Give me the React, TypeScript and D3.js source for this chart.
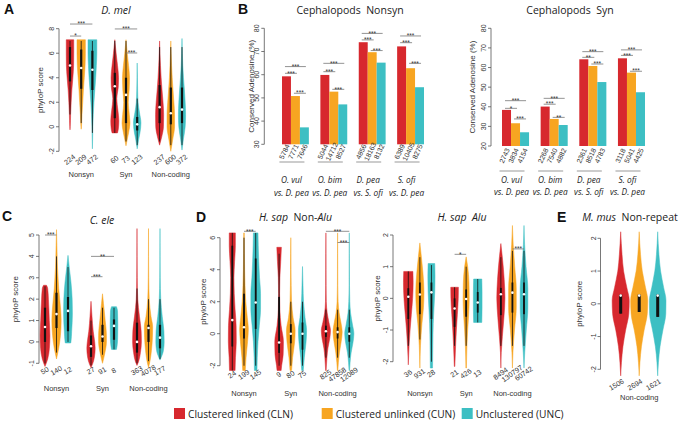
import React from "react";
import * as d3 from "d3";

// ---------------- DATA ----------------
const COLORS = ["#d7282e", "#f7a521", "#3dbfc3"];
const SERIES_NAMES = ["Clustered linked (CLN)", "Clustered unlinked (CUN)", "Unclustered (UNC)"];
const VIOLIN_GROUPS = ["Nonsyn", "Syn", "Non-coding"];

type Prof = [number, number][];
type Stat = [number, number, number, number, number]; // q1, median, q3, lo, hi
type Sig = [number, number, number, number, string]; // group, s1, s2, y, label

// Panel A: D. mel
const aTicks = [-2, 0, 2, 4, 6, 8];
const aCounts = ["224", "209", "472", "60", "73", "123", "237", "600", "372"];
const aStats: Stat[] = [
  [3.7, 5.0, 6.5, 1.0, 7.0], [3.1, 4.8, 6.3, 0.3, 7.0], [3.0, 4.65, 6.2, -0.5, 7.0],
  [0.7, 3.3, 4.4, -0.5, 7.0], [0.3, 2.6, 4.0, -1.2, 7.0], [-0.3, 0.2, 0.8, -1.5, 2.3],
  [0.3, 1.6, 3.4, -1.2, 6.5], [0.2, 1.1, 3.2, -1.5, 6.5], [0.3, 1.4, 3.2, -1.5, 6.5],
];
const aProfiles: Prof[] = [
  [[7.1, 0.85], [6, 0.85], [5, 0.82], [4, 0.65], [3, 0.42], [2, 0.26], [1, 0.14], [0, 0.05], [-0.25, 0]],
  [[7.1, 0.95], [6, 0.95], [5, 0.88], [4, 0.7], [3, 0.5], [2, 0.35], [1, 0.18], [0, 0.06], [-0.2, 0]],
  [[7.1, 1.0], [6, 1.0], [5, 0.9], [4, 0.75], [3, 0.55], [2, 0.35], [1, 0.2], [0, 0.1], [-1, 0.05], [-1.8, 0]],
  [[7.1, 0], [6, 0.3], [5, 0.62], [4, 0.85], [3.2, 0.78], [2.3, 0.45], [1.3, 0.72], [0.5, 0.92], [-0.2, 0.8], [-0.5, 0.62]],
  [[7.1, 0], [6, 0.28], [5, 0.58], [4, 0.8], [3, 0.72], [2, 0.52], [1, 0.75], [0.3, 0.9], [-0.5, 0.58], [-1, 0.3], [-1.55, 0]],
  [[5.2, 0], [4, 0.05], [3, 0.1], [2, 0.2], [1.2, 0.5], [0.3, 0.85], [-0.5, 0.62], [-1, 0.35], [-1.8, 0]],
  [[7, 0], [6, 0.08], [5, 0.2], [4, 0.35], [3, 0.55], [2, 0.78], [1, 0.92], [0, 0.88], [-0.8, 0.5], [-1.5, 0]],
  [[7, 0], [6, 0.08], [5, 0.18], [4, 0.32], [3, 0.5], [2, 0.7], [1, 0.85], [0, 0.85], [-1, 0.45], [-2, 0]],
  [[7.2, 0], [6, 0.08], [5, 0.18], [4, 0.34], [3, 0.55], [2, 0.72], [1, 0.82], [0, 0.72], [-1, 0.32], [-1.9, 0]],
];
const aSigs: Sig[] = [
  [0, 0, 2, 8.38, "***"], [0, 0, 1, 7.4, "*"], [1, 0, 2, 7.98, "***"], [1, 1, 2, 6.02, "***"],
];

// Panel B: Cephalopods
const cephGroups = [["O. vul", "vs. D. pea"], ["O. bim", "vs. D. pea"], ["D. pea", "vs. S. ofi"], ["S. ofi", "vs. D. pea"]];
const nonsynTicks = [30, 40, 50, 60, 70, 80];
const nonsynValues = [[59.3, 50.8, 37.3], [59.9, 52.7, 47.2], [74.0, 69.7, 65.2], [72.2, 62.8, 54.6]];
const nonsynCounts = [["5784", "7771", "7646"], ["5044", "14712", "8527"], ["4856", "18163", "8132"], ["6389", "10405", "8275"]];
const nonsynSigs: Sig[] = [
  [0, 0, 2, 63.5, "***"], [0, 0, 1, 60.6, "***"], [0, 1, 2, 52.0, "***"],
  [1, 0, 2, 64.9, "***"], [1, 0, 1, 61.3, "***"], [1, 1, 2, 53.7, "***"],
  [2, 0, 2, 77.8, "***"], [2, 0, 1, 75.0, "***"], [2, 1, 2, 70.4, "***"],
  [3, 0, 2, 76.7, "***"], [3, 0, 1, 73.8, "***"], [3, 1, 2, 64.9, "***"],
];
const synTicks = [20, 30, 40, 50, 60, 70, 80];
const synValues = [[38.4, 31.6, 27.0], [40.1, 33.8, 30.7], [64.2, 60.8, 52.6], [64.7, 57.4, 47.4]];
const synCounts = [["2743", "3834", "4154"], ["2268", "7540", "4882"], ["2361", "8518", "4783"], ["3118", "5041", "4425"]];
const synSigs: Sig[] = [
  [0, 0, 2, 43.1, "***"], [0, 0, 1, 39.2, "*"], [0, 1, 2, 33.8, "***"],
  [1, 0, 2, 44.3, "***"], [1, 0, 1, 41.3, "***"], [1, 1, 2, 34.6, "**"],
  [2, 0, 2, 68.1, "***"], [2, 0, 1, 65.2, "**"], [2, 1, 2, 61.8, "***"],
  [3, 0, 2, 69.0, "***"], [3, 0, 1, 66.2, "***"], [3, 1, 2, 58.1, "***"],
];

// Panel C: C. ele
const cTicks = [-1, 0, 1, 2, 3, 4, 5];
const cCounts = ["50", "140", "12", "27", "91", "8", "363", "4078", "177"];
const cStats: Stat[] = [
  [0, 0.7, 1.6, -1, 2.6], [0.65, 1.3, 2.3, -0.5, 4], [0.5, 1.45, 2.1, 0, 3.5],
  [-0.7, -0.2, 0.3, -1.1, 1], [0, 0.25, 0.8, -0.6, 1.6], [0.1, 0.75, 1.05, -0.35, 1.6],
  [-0.5, 0, 0.9, -1, 2.5], [0, 0.65, 0.8, -0.9, 2], [-0.3, 0.2, 0.8, -0.8, 2],
];
const cProfiles: Prof[] = [
  [[2.65, 0.3], [2.5, 0.55], [2, 0.7], [1, 0.88], [0.3, 1.0], [-0.3, 0.9], [-0.8, 0.55], [-1.15, 0]],
  [[5.25, 0], [4.5, 0.08], [3.5, 0.2], [2.5, 0.45], [1.5, 0.85], [1, 0.95], [0.3, 0.8], [-0.3, 0.45], [-0.8, 0]],
  [[4.05, 0], [3.5, 0.25], [2.8, 0.6], [2, 0.85], [1.3, 0.9], [0.5, 0.75], [0, 0.6], [-0.05, 0.55]],
  [[1.9, 0], [1.2, 0.2], [0.5, 0.45], [0, 0.75], [-0.3, 0.85], [-0.7, 0.7], [-1.05, 0.3], [-1.2, 0]],
  [[2.25, 0], [1.8, 0.2], [1, 0.55], [0.3, 0.8], [0, 0.8], [-0.5, 0.5], [-1, 0]],
  [[1.65, 0.5], [1.45, 0.72], [0.8, 0.78], [0.2, 0.75], [-0.2, 0.62], [-0.35, 0.5]],
  [[5.3, 0], [4, 0.02], [3, 0.05], [2, 0.15], [1.2, 0.5], [0.5, 0.85], [0, 0.9], [-0.5, 0.7], [-0.9, 0.35], [-1.1, 0]],
  [[5.3, 0], [4, 0.02], [3, 0.05], [2, 0.15], [1.2, 0.5], [0.7, 0.85], [0.2, 0.8], [-0.4, 0.6], [-0.9, 0.3], [-1.2, 0]],
  [[5.3, 0], [4, 0.02], [3, 0.05], [2, 0.15], [1.2, 0.45], [0.5, 0.8], [0, 0.85], [-0.4, 0.7], [-0.85, 0]],
];
const cSigs: Sig[] = [[0, 0, 1, 5.0, "***"], [1, 0, 2, 4.0, "**"], [1, 0, 1, 3.05, "***"]];

// Panel D left: H. sap Non-Alu
const dTicks = [-2, 0, 2, 4, 6];
const dCounts = ["24", "199", "145", "9", "80", "75", "825", "47858", "12089"];
const dStats: Stat[] = [
  [-0.8, 0.85, 5.5, -2.3, 6.3], [-0.3, 0.4, 2.5, -2, 6], [0.3, 1.95, 4.7, -2, 6.3],
  [-1.2, -0.55, 2.3, -2, 5], [-0.6, 0, 0.6, -2, 2], [-1, 0, 0.7, -2, 2],
  [-0.2, 0.15, 0.5, -1.5, 1.5], [-0.3, 0.1, 0.4, -1.5, 1.5], [-0.5, 0, 0.4, -1.5, 1.5],
];
const dProfiles: Prof[] = [
  [[6.3, 0.6], [5.5, 0.6], [4.5, 0.45], [3.5, 0.32], [2.5, 0.38], [1.5, 0.55], [0.5, 0.75], [-0.5, 0.78], [-1.5, 0.62], [-2.3, 0.55]],
  [[6.3, 0.05], [5, 0.08], [4, 0.12], [3, 0.2], [2, 0.35], [1, 0.65], [0.3, 0.85], [-0.5, 0.7], [-1.5, 0.4], [-2.3, 0.25]],
  [[6.3, 0.45], [5.5, 0.5], [4.5, 0.6], [3.5, 0.75], [2.5, 0.95], [1.5, 0.95], [0.5, 0.7], [-0.5, 0.45], [-1.5, 0.3], [-2.3, 0.25]],
  [[5.4, 0.45], [4.5, 0.32], [3.5, 0.15], [2.5, 0.1], [1.5, 0.15], [0.5, 0.4], [-0.5, 0.85], [-1.3, 0.8], [-2, 0.5], [-2.3, 0.4]],
  [[6, 0], [5, 0.03], [4, 0.05], [3, 0.08], [2, 0.15], [1, 0.45], [0.2, 0.85], [-0.5, 0.75], [-1.5, 0.35], [-2.3, 0.15]],
  [[4.2, 0], [3, 0.1], [2, 0.2], [1, 0.5], [0.2, 0.8], [-0.5, 0.7], [-1.5, 0.35], [-2.3, 0.15]],
  [[6.3, 0], [5, 0.02], [3, 0.04], [2, 0.08], [1.3, 0.25], [0.7, 0.6], [0.2, 0.9], [-0.3, 0.75], [-0.9, 0.4], [-1.5, 0.2], [-2.3, 0.05]],
  [[6.3, 0], [5, 0.02], [3, 0.04], [2, 0.1], [1.3, 0.3], [0.7, 0.65], [0.1, 0.9], [-0.5, 0.7], [-1.2, 0.35], [-1.8, 0.15], [-2.3, 0.05]],
  [[6.3, 0], [5, 0.02], [3, 0.04], [2, 0.1], [1.3, 0.25], [0.6, 0.6], [0, 0.9], [-0.6, 0.7], [-1.2, 0.35], [-1.8, 0.15], [-2.3, 0.05]],
];
const dSigs: Sig[] = [[0, 1, 2, 6.4, "***"], [2, 0, 2, 6.4, "***"], [2, 1, 2, 5.7, "***"]];

// Panel D right: H. sap Alu
const dAluTicks = [-2, -1, 0, 1, 2];
const dAluCounts = ["36", "931", "28", "21", "426", "13", "8494", "130797", "60742"];
const dAluStats: Stat[] = [
  [-0.65, 0.05, 0.32, -1.5, 0.85], [-0.5, 0.12, 0.5, -1.3, 1.3], [-0.65, 0.19, 0.5, -2, 1.05],
  [-0.9, -0.32, 0, -1.5, 0.35], [-0.58, -0.02, 0.28, -1.5, 1.0], [-0.45, -0.13, 0.2, -0.76, 0.61],
  [-0.53, 0.13, 0.33, -1.5, 1.3], [-0.45, 0.18, 0.5, -1.5, 1.5], [-0.5, 0.13, 0.5, -1.5, 1.5],
];
const dAluProfiles: Prof[] = [
  [[0.85, 0.9], [0.5, 0.95], [0, 0.85], [-0.5, 0.6], [-1, 0.35], [-1.5, 0.15], [-2.1, 0]],
  [[1.75, 0], [1.3, 0.3], [0.8, 0.6], [0.2, 0.8], [-0.3, 0.7], [-0.8, 0.4], [-1.5, 0.12], [-2.2, 0]],
  [[1.1, 0.65], [0.7, 0.7], [0.2, 0.65], [-0.3, 0.5], [-0.8, 0.35], [-1.5, 0.27], [-2.2, 0.22]],
  [[0.35, 0.75], [0, 0.72], [-0.5, 0.55], [-1, 0.35], [-1.5, 0.2], [-2.15, 0.05]],
  [[1.31, 0], [1.0, 0.3], [0.5, 0.55], [0, 0.6], [-0.5, 0.5], [-1, 0.3], [-1.5, 0.15], [-2.2, 0.05]],
  [[0.61, 0.8], [0.2, 0.85], [-0.3, 0.85], [-0.76, 0.8]],
  [[1.73, 0], [1.2, 0.35], [0.6, 0.65], [0, 0.8], [-0.6, 0.6], [-1.2, 0.3], [-1.7, 0.08], [-2.2, 0]],
  [[2.3, 0], [1.7, 0.15], [1, 0.45], [0.3, 0.75], [-0.3, 0.75], [-1, 0.4], [-1.7, 0.1], [-2.2, 0]],
  [[2.3, 0], [1.7, 0.12], [1, 0.4], [0.3, 0.75], [-0.3, 0.75], [-1, 0.45], [-1.7, 0.15], [-2.2, 0]],
];
const dAluSigs: Sig[] = [[1, 0, 1, 1.39, "*"], [2, 1, 2, 1.56, "***"]];

// Panel E: M. mus Non-repeat
const eTicks = [-2, -1, 0, 1, 2];
const eGroups = ["Non-coding"];
const eCounts = ["1506", "2694", "1621"];
const eStats: Stat[] = [
  [-0.3, 0.25, 0.28, -0.3, 0.28], [-0.25, 0.25, 0.28, -0.25, 0.28], [-0.4, 0.25, 0.28, -0.4, 0.28],
];
const eProfiles: Prof[] = [
  [[2.2, 0], [1.5, 0.15], [1, 0.32], [0.5, 0.68], [0.1, 0.95], [-0.3, 0.9], [-0.8, 0.55], [-1.3, 0.25], [-1.8, 0.08], [-2.2, 0]],
  [[2.2, 0], [1.5, 0.15], [1, 0.34], [0.5, 0.7], [0.1, 0.95], [-0.3, 0.9], [-0.8, 0.55], [-1.3, 0.25], [-1.8, 0.08], [-2.2, 0]],
  [[2.2, 0], [1.5, 0.14], [1, 0.32], [0.5, 0.66], [0.1, 0.92], [-0.3, 0.9], [-0.8, 0.58], [-1.3, 0.26], [-1.8, 0.08], [-2.2, 0]],
];

// ---------------- STYLE ----------------
const SANS = "'Liberation Sans', Arial, sans-serif";
const OPEN = "'Open Sans', 'Noto Sans', sans-serif";
const AX = "#555";

function YAxis({ y, ticks, x, label, labelX }: any) {
  const [lo, hi] = d3.extent(ticks) as [number, number];
  const mid = (y(lo) + y(hi)) / 2;
  return (
    <g fontFamily={SANS} fill="#333">
      <line x1={x} x2={x} y1={y(lo)} y2={y(hi)} stroke={AX} strokeWidth={0.8} />
      {ticks.map((t: number) => (
        <g key={t}>
          <line x1={x - 3} x2={x} y1={y(t)} y2={y(t)} stroke={AX} strokeWidth={0.8} />
          <text transform={`translate(${x - 5},${y(t)}) rotate(-90)`} textAnchor="middle" fontSize={7}>{t}</text>
        </g>
      ))}
      <text transform={`translate(${labelX + 3},${mid}) rotate(-90)`} textAnchor="middle" fontSize={8}>{label}</text>
    </g>
  );
}

function SigMark({ x1, x2, y, label }: any) {
  return (
    <g>
      <line x1={x1} x2={x2} y1={y} y2={y} stroke="#777" strokeWidth={0.8} />
      <text x={(x1 + x2) / 2} y={y + 2.2} textAnchor="middle" fontSize={6.5} fontFamily={SANS} fill="#333">{label}</text>
    </g>
  );
}

function ViolinPanel({ cfg, ticks, groups, counts, stats, profiles, sigs }: any) {
  const slotOf = (g: number, s: number) => (groups.length === 1 ? s : g * 4 + s);
  const x = d3.scaleLinear().domain([0, groups.length === 1 ? 2 : 10]).range(cfg.xr);
  const y = d3.scaleLinear().domain(cfg.yd).range(cfg.yr);
  return (
    <g>
      <YAxis y={y} ticks={ticks} x={cfg.axisX} label="phyloP score" labelX={cfg.ylabX} />
      {profiles.map((p: Prof, i: number) => {
        const g = Math.floor(i / 3), s = i % 3;
        const cx = x(slotOf(g, s));
        const area = d3.area<[number, number]>()
          .y((d) => y(d[0]))
          .x0((d) => cx - d[1] * cfg.hw)
          .x1((d) => cx + d[1] * cfg.hw)
          .curve(d3.curveMonotoneY);
        const [q1, med, q3, lo, hi] = stats[i];
        return (
          <g key={i}>
            <path d={area(p) || ""} fill={COLORS[s]} stroke={COLORS[s]} strokeWidth={0.5} />
            <line x1={cx} x2={cx} y1={y(lo)} y2={y(hi)} stroke="#111" strokeWidth={0.8} />
            <rect x={cx - cfg.boxW / 2} width={cfg.boxW} y={y(q3)} height={Math.max(0.5, y(q1) - y(q3))} fill="#111" />
            <circle cx={cx} cy={y(med)} r={1.3} fill="#fff" />
            <text transform={`translate(${cx + cfg.countDx},${cfg.countY}) rotate(${cfg.countRot})`} textAnchor="middle" dominantBaseline="middle" fontSize={7.2} fontFamily={SANS} fill="#333">{counts[i]}</text>
          </g>
        );
      })}
      {groups.map((gname: string, g: number) => (
        <text key={gname} x={x(slotOf(g, 1))} y={cfg.groupY} textAnchor="middle" fontSize={7.5} fontFamily={SANS} fill="#333">{gname}</text>
      ))}
      {sigs.map((sg: Sig, k: number) => (
        <SigMark key={k} x1={x(slotOf(sg[0], sg[1]))} x2={x(slotOf(sg[0], sg[2]))} y={y(sg[3])} label={sg[4]} />
      ))}
    </g>
  );
}

function BarPanel({ cfg, ticks, values, counts, sigs }: any) {
  const xg = d3.scaleBand<number>().domain(d3.range(values.length)).range(cfg.xr).paddingInner(0.3).paddingOuter(0);
  const xs = d3.scaleBand<number>().domain([0, 1, 2]).range([0, xg.bandwidth()]);
  const y = d3.scaleLinear().domain(cfg.yd).range(cfg.yr);
  const bx = (g: number, s: number) => (xg(g) as number) + (xs(s) as number);
  const bc = (g: number, s: number) => bx(g, s) + xs.bandwidth() / 2;
  return (
    <g>
      <YAxis y={y} ticks={ticks} x={cfg.axisX} label="Conserved Adenosine (%)" labelX={cfg.ylabX} />
      {values.map((row: number[], g: number) => (
        <g key={g}>
          {row.map((v, s) => (
            <g key={s}>
              <rect x={bx(g, s)} width={xs.bandwidth()} y={y(v)} height={y(cfg.yd[0]) - y(v)} fill={COLORS[s]} />
              <text transform={`translate(${bc(g, s) - 1.5},${cfg.countY}) rotate(-65)`} textAnchor="middle" dominantBaseline="middle" fontSize={7} fontFamily={SANS} fill="#333">{counts[g][s]}</text>
            </g>
          ))}
          <line x1={(xg(g) as number) + xg.bandwidth() / 2 - 16} x2={(xg(g) as number) + xg.bandwidth() / 2 + 9} y1={cfg.lineY} y2={cfg.lineY} stroke="#999" strokeWidth={1} />
          <text x={(xg(g) as number) + xg.bandwidth() / 2 - 4} y={cfg.lab1Y} textAnchor="middle" fontSize={8.3} fontStyle="italic" fontFamily={OPEN} fill="#222">{cephGroups[g][0]}</text>
          <text x={(xg(g) as number) + xg.bandwidth() / 2 - 4} y={cfg.lab2Y} textAnchor="middle" fontSize={8.3} fontStyle="italic" fontFamily={OPEN} fill="#222">{cephGroups[g][1]}</text>
        </g>
      ))}
      {sigs.map((sg: Sig, k: number) => (
        <SigMark key={k} x1={bc(sg[0], sg[1]) - 1.5} x2={bc(sg[0], sg[2]) + 1.5} y={y(sg[3])} label={sg[4]} />
      ))}
    </g>
  );
}

const cfgA = { xr: [70, 182], yd: [-2, 8], yr: [151.3, 28.7], axisX: 59, ylabX: 40, hw: 4.4, boxW: 2.2, countY: 160, countRot: -38, countDx: 0, groupY: 177 };
const cfgC = { xr: [45, 160], yd: [-1, 5], yr: [363.3, 235], axisX: 39, ylabX: 15, hw: 4.9, boxW: 2.2, countY: 371, countRot: -30, countDx: 0, groupY: 391 };
const cfgD = { xr: [232.3, 349.3], yd: [-2, 6], yr: [365.7, 237.7], axisX: 220, ylabX: 203, hw: 5.1, boxW: 1.8, countY: 375, countRot: -35, countDx: 0, groupY: 396 };
const cfgDA = { xr: [408.3, 524], yd: [-2, 2], yr: [361.7, 235], axisX: 393, ylabX: 377, hw: 5.1, boxW: 1.8, countY: 374, countRot: -35, countDx: 0, groupY: 396 };
const cfgE = { xr: [620.7, 657.7], yd: [-2, 2], yr: [369.3, 238.3], axisX: 600.5, ylabX: 579, hw: 9, boxW: 3, countY: 385, countRot: -30, countDx: -4, groupY: 400 };
const cfgBN = { xr: [282, 424], yd: [30, 80], yr: [144.3, 28.3], axisX: 264.3, ylabX: 251, countY: 152, lineY: 162, lab1Y: 183, lab2Y: 195.5 };
const cfgBS = { xr: [502, 645], yd: [20, 80], yr: [146, 28.3], axisX: 491, ylabX: 472.3, countY: 156, lineY: 171, lab1Y: 183, lab2Y: 194.5 };

const legendX = [174, 321.7, 461.7];

export default function App() {
  const letter = (t: string, x: number, y: number) => (
    <text x={x} y={y} fontSize={14} fontWeight="bold" fontFamily={SANS} fill="#111">{t}</text>
  );
  const title = { fontFamily: OPEN, fontSize: 10.5, fill: "#222", textAnchor: "middle" as const };
  return (
    <div style={{ position: "absolute", left: 0, top: 0 }}>
      <svg width={683} height={422} viewBox="0 0 683 422" style={{ display: "block", background: "#fff" }}>
        {letter("A", 4, 14)}
        {letter("B", 238, 14)}
        {letter("C", 2, 221)}
        {letter("D", 196, 222)}
        {letter("E", 557, 222)}
        <text x={116} y={14} {...title} fontStyle="italic">D. mel</text>
        <text x={350} y={14} {...title}>Cephalopods{"\u00a0\u00a0"}Nonsyn</text>
        <text x={570} y={14} {...title}>Cephalopods{"\u00a0\u00a0"}Syn</text>
        <text x={102} y={224} {...title} fontStyle="italic">C. ele</text>
        <text x={295.5} y={221} {...title}>
          <tspan fontStyle="italic">H. sap</tspan>{"\u00a0\u00a0"}Non-<tspan fontStyle="italic">Alu</tspan>
        </text>
        <text x={462} y={221} {...title}>
          <tspan fontStyle="italic">H. sap</tspan>{"\u00a0\u00a0"}<tspan fontStyle="italic">Alu</tspan>
        </text>
        <text x={630} y={221} {...title}>
          <tspan fontStyle="italic">M. mus</tspan>{"\u00a0\u00a0"}Non-repeat
        </text>

        <ViolinPanel cfg={cfgA} ticks={aTicks} groups={VIOLIN_GROUPS} counts={aCounts} stats={aStats} profiles={aProfiles} sigs={aSigs} />
        <BarPanel cfg={cfgBN} ticks={nonsynTicks} values={nonsynValues} counts={nonsynCounts} sigs={nonsynSigs} />
        <BarPanel cfg={cfgBS} ticks={synTicks} values={synValues} counts={synCounts} sigs={synSigs} />
        <ViolinPanel cfg={cfgC} ticks={cTicks} groups={VIOLIN_GROUPS} counts={cCounts} stats={cStats} profiles={cProfiles} sigs={cSigs} />
        <ViolinPanel cfg={cfgD} ticks={dTicks} groups={VIOLIN_GROUPS} counts={dCounts} stats={dStats} profiles={dProfiles} sigs={dSigs} />
        <ViolinPanel cfg={cfgDA} ticks={dAluTicks} groups={VIOLIN_GROUPS} counts={dAluCounts} stats={dAluStats} profiles={dAluProfiles} sigs={dAluSigs} />
        <ViolinPanel cfg={cfgE} ticks={eTicks} groups={eGroups} counts={eCounts} stats={eStats} profiles={eProfiles} sigs={[]} />

        {SERIES_NAMES.map((name, i) => (
          <g key={name}>
            <rect x={legendX[i]} y={408} width={11} height={11} fill={COLORS[i]} />
            <text x={legendX[i] + 14} y={417.5} fontSize={10.2} fontFamily={OPEN} fill="#222">{name}</text>
          </g>
        ))}
      </svg>
    </div>
  );
}
